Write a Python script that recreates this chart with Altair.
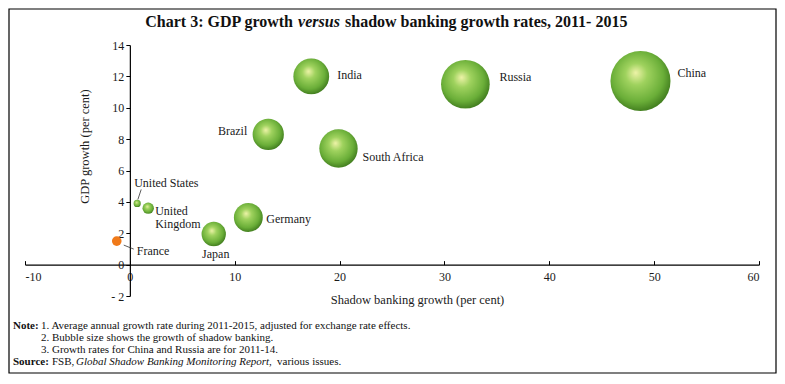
import altair as alt
import pandas as pd

# ---------------- data ----------------
countries = ["China", "Russia", "India", "South Africa", "Brazil", "Germany",
             "Japan", "United States", "United Kingdom", "France"]
shadow_growth = [48.7, 32.0, 17.3, 19.9, 13.2, 11.3, 8.0, 0.7, 1.75, -1.25]
gdp_growth = [11.7, 11.5, 12.0, 7.4, 8.3, 3.0, 1.95, 3.9, 3.6, 1.5]
labels = ["China", "Russia", "India", "South Africa", "Brazil", "Germany",
          "Japan", "United States", "United\nKingdom", "France"]

x_ticks = [-10, 0, 10, 20, 30, 40, 50, 60]
y_ticks = [-2, 0, 2, 4, 6, 8, 10, 12, 14]

title_parts = ["Chart 3: GDP growth ", "versus", "shadow banking growth rates, 2011- 2015"]
note_lines = [
    "1. Average annual growth rate during 2011-2015, adjusted for exchange rate effects.",
    "2. Bubble size shows the growth of shadow banking.",
    "3. Growth rates for China and Russia are for 2011-14.",
]
source_parts = ["FSB,", "Global Shadow Banking Monitoring Report,", "various issues."]

df = pd.DataFrame({
    "country": countries,
    "x": shadow_growth,
    "y": gdp_growth,
    "label": labels,
})
df["size"] = df["x"].abs()

# ---------------- layout ----------------
W, H = 734, 251
XD = [-10, 60]
YD = [-2, 14]
FONT = "Liberation Serif"
y_axis_offset = -W * (0 - XD[0]) / (XD[1] - XD[0])
top_axis_offset = -H * (YD[1] - 0) / (YD[1] - YD[0])

xscale = alt.Scale(domain=XD, nice=False, zero=False)
yscale = alt.Scale(domain=YD, nice=False, zero=False)
size_scale = alt.Scale(domain=[0, 50], range=[0, 3700])

base = alt.Chart(df)

sphere = alt.RadialGradient(
    gradient="radial",
    stops=[
        alt.GradientStop(offset=0, color="#eef3a8"),
        alt.GradientStop(offset=0.3, color="#9fd25e"),
        alt.GradientStop(offset=0.72, color="#6aae38"),
        alt.GradientStop(offset=1, color="#3a741a"),
    ],
    x1=0.42, y1=0.36, r1=0,
    x2=0.46, y2=0.44, r2=0.6,
)

# x axis drawn at y = 0 (top-oriented so the ticks point upward, labels moved below)
x_axis = alt.Axis(values=x_ticks, orient="top", offset=top_axis_offset,
                  ticks=True, tickSize=4, grid=False,
                  labelPadding=-11, labelBaseline="top", labelOverlap=False,
                  labelExpr="datum.value < 0 ? '-' + abs(datum.value) : datum.label",
                  title="Shadow banking growth (per cent)",
                  titleX=392, titleY=35, titleBaseline="middle",
                  titleAnchor="start", titleAlign="center")
y_axis = alt.Axis(values=y_ticks, offset=y_axis_offset, grid=False,
                  tickSize=4, labelPadding=2, labelOverlap=False,
                  labelExpr="datum.value < 0 ? '- ' + abs(datum.value) : datum.label",
                  title="GDP growth (per cent)",
                  titleX=-45, titleY=101, titleAngle=-90,
                  titleBaseline="middle", titleAlign="center")

green = base.transform_filter("datum.x >= 0").mark_circle(
    color=sphere, opacity=1
).encode(
    x=alt.X("x:Q", scale=xscale, axis=x_axis),
    y=alt.Y("y:Q", scale=yscale, axis=y_axis),
    size=alt.Size("size:Q", scale=size_scale, legend=None),
)

orange = base.transform_filter("datum.x < 0").mark_circle(
    color="#f07a1a", opacity=1
).encode(
    x=alt.X("x:Q", scale=xscale, axis=x_axis),
    y=alt.Y("y:Q", scale=yscale, axis=y_axis),
    size=alt.Size("size:Q", scale=size_scale, legend=None),
)

# label placement (style): align, dx, dy, baseline
label_style = {
    "China": ("left", 37, -8, "middle"),
    "Russia": ("left", 34, -7, "middle"),
    "India": ("left", 26, -1, "middle"),
    "South Africa": ("left", 24, 8, "middle"),
    "Brazil": ("right", -21, -3, "middle"),
    "Germany": ("left", 18, 1, "middle"),
    "Japan": ("center", 2, 20, "middle"),
    "United States": ("left", -3, -20, "middle"),
    "United Kingdom": ("left", 7, -2, "top"),
    "France": ("left", 20, 10, "middle"),
}
label_layers = []
for c, (al, dx, dy, bl) in label_style.items():
    label_layers.append(
        base.transform_filter(alt.datum.country == c).mark_text(
            align=al, baseline=bl, dx=dx, dy=dy, font=FONT, fontSize=12,
            color="#1a1a1a", lineBreak="\n", lineHeight=13
        ).encode(x=alt.X("x:Q", scale=xscale, axis=x_axis),
                 y=alt.Y("y:Q", scale=yscale, axis=y_axis),
                 text="label:N")
    )

# leader lines (style offsets from bubble centre)
leaders = {
    "United States": (4, -14, 0.7, -4),
    "France": (7, 4, 17, 8),
}
leader_layers = []
for c, (x1, y1, x2, y2) in leaders.items():
    leader_layers.append(
        base.transform_filter(alt.datum.country == c).mark_rule(
            color="#333333", strokeWidth=0.8,
            xOffset=x1, yOffset=y1, x2Offset=x2, y2Offset=y2
        ).encode(x=alt.X("x:Q", scale=xscale, axis=x_axis),
                 y=alt.Y("y:Q", scale=yscale, axis=y_axis),
                 x2="x:Q", y2="y:Q")
    )

# ---------------- annotations (title, notes, frame) ----------------
one = alt.Chart(pd.DataFrame({"k": [0]}))


def txt(s, x, y, size=10, weight="normal", style="normal", align="left"):
    return one.mark_text(
        text=s, align=align, baseline="middle", font=FONT, fontSize=size,
        fontWeight=weight, fontStyle=style, color="#111111"
    ).encode(x=alt.value(x), y=alt.value(y))


title_y = -23
NS = 11
annos = [
    txt(title_parts[0], 268, title_y, 16, "bold", "normal", "right"),
    txt(title_parts[1], 294, title_y, 16, "bold", "italic", "center"),
    txt(title_parts[2], 320, title_y, 16, "bold", "normal", "left"),
    txt("Note:", -12, 281, NS, "bold"),
    txt(note_lines[0], 16, 281, NS),
    txt(note_lines[1], 16, 293, NS),
    txt(note_lines[2], 16, 305, NS),
    txt("Source:", -12, 317, NS, "bold"),
    txt(source_parts[0], 27, 317, NS),
    txt(source_parts[1], 51, 317, NS, "normal", "italic"),
    txt(source_parts[2], 252, 317, NS),
]

frame = one.mark_rect(fill=None, stroke="#000000", strokeWidth=1.2).encode(
    x=alt.value(-16), x2=alt.value(W + 17), y=alt.value(-36), y2=alt.value(H + 77)
)

chart = alt.layer(
    frame, green, orange, *leader_layers, *label_layers, *annos
).properties(
    width=W, height=H,
    autosize=alt.AutoSizeParams(type="none"),
    padding={"left": 17, "top": 37, "right": 18, "bottom": 79},
).configure_view(stroke=None).configure_axis(
    labelFont=FONT, titleFont=FONT, labelFontSize=12, titleFontSize=12.5,
    titleFontWeight="normal", labelColor="#1a1a1a", titleColor="#1a1a1a",
    domainColor="#000000", tickColor="#000000", domainWidth=1.2,
    labelOverlap=False, labelSeparation=0
)

chart.save("out.html", embed_options={"renderer": "svg", "actions": False})
